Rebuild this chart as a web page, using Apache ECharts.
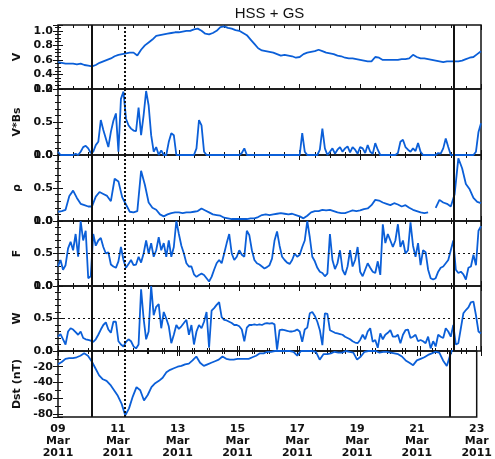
<!DOCTYPE html>
<html><head><meta charset="utf-8">
<script src="https://cdn.jsdelivr.net/npm/echarts@6/dist/echarts.min.js"></script>
<style>html,body{margin:0;padding:0;background:#fff}#c{width:495px;height:459px}</style>
</head><body><div id="c"></div>
<script>
// ---------- data ----------
const chartTitle = 'HSS + GS';
const dayLabels = ['09','11','13','15','17','19','21','23'];
const monthLabel = 'Mar';
const yearLabel = '2011';
const panelNames = ['V', 'V*Bs', 'ρ', 'F', 'W', 'Dst (nT)'];
// event times, days after 09 Mar 2011 00 UT
const solidEventDays = [1.125, 13.09];
const dottedEventDays = [2.22];
const referenceLevel = 0.5;

// V, 3-hourly from 09 Mar 00 UT
const vStepHours = 3;
const vValues = [
0.57,0.56,0.55,0.55,0.55,0.54,0.55,0.53,
0.52,0.51,0.53,0.56,0.58,0.60,0.62,0.65,
0.67,0.68,0.69,0.70,0.70,0.66,0.74,0.80,
0.84,0.88,0.93,0.94,0.95,0.96,0.97,0.98,
0.98,0.99,1.00,1.00,1.02,1.03,1.00,0.96,
0.95,0.97,1.00,1.05,1.06,1.04,1.03,1.01,
1.00,0.97,0.94,0.88,0.82,0.76,0.73,0.72,
0.71,0.70,0.68,0.66,0.67,0.66,0.65,0.63,
0.64,0.68,0.70,0.71,0.72,0.74,0.72,0.70,
0.69,0.68,0.66,0.65,0.63,0.62,0.62,0.61,
0.60,0.59,0.58,0.58,0.64,0.63,0.60,0.60,
0.60,0.60,0.60,0.61,0.61,0.62,0.67,0.64,
0.62,0.62,0.61,0.60,0.59,0.58,0.57,0.58,
0.58,0.58,0.58,0.59,0.61,0.63,0.64,0.68,
0.72];

// V*Bs, 2-hourly
const vbsStepHours = 2;
const vbsValues = [
0.05,0,0,0,0,0,0,0.02,0,0.05,0.12,0.14,
0.10,0.03,0.05,0.15,0.20,0.53,0.38,0.25,0.12,0.35,0.52,0.63,
0.05,0.85,0.96,0.55,0.45,0.40,0.37,0.36,0.72,0.30,0.60,0.97,
0.75,0.30,0.05,0.12,0,0.07,0,0,0.20,0.33,0.30,0,
0,0,0,0,0,0,0,0.10,0.53,0.45,0.05,0,
0,0,0,0,0,0,0,0,0,0,0,0,
0,0.03,0.10,0,0,0,0,0,0,0,0,0,
0,0,0,0,0,0,0,0,0,0,0,0,
0,0.33,0.05,0,0,0,0,0,0.08,0.40,0.10,0,
0.05,0.10,0.02,0.08,0.12,0.05,0.10,0.13,0.04,0.12,0.08,0.02,
0.12,0.10,0.03,0.15,0.05,0.02,0.18,0.08,0,0,0,0,
0,0,0,0.03,0.20,0.23,0.12,0.08,0.05,0.10,0.06,0.18,
0.05,0,0,0,0,0,0,0.03,0.02,0.10,0.25,0.12,
0,0,0,0,0,0,0,0,0,0,0.05,0.35,
0.48];

// rho, 3-hourly (null = data gap)
const rhoStepHours = 3;
const rhoValues = [
0.14,0.15,0.17,0.38,0.46,0.35,0.26,0.24,
0.22,0.22,0.37,0.44,0.41,0.38,0.30,0.64,
0.60,0.36,0.25,0.14,0.13,0.15,0.76,0.55,
0.28,0.20,0.17,0.10,0.07,0.10,0.12,0.13,
0.13,0.12,0.13,0.13,0.14,0.15,0.19,0.16,
0.13,0.10,0.09,0.08,0.05,0.04,0.03,0.03,
0.03,0.03,0.03,0.04,0.04,0.06,0.09,0.10,
0.09,0.10,0.11,0.12,0.11,0.10,0.11,0.09,
0.07,0.04,0.08,0.13,0.15,0.15,0.17,0.16,
0.17,0.15,0.13,0.12,0.12,0.14,0.16,0.15,
0.16,0.18,0.19,0.24,0.32,0.31,0.28,0.26,
0.24,0.27,0.25,0.22,0.24,0.20,0.17,0.15,
0.13,0.12,0.13,null,0.20,0.32,0.28,0.26,
0.22,0.40,0.95,0.80,0.56,0.48,0.35,0.29,
0.27];

// F, 2-hourly
const fStepHours = 2;
const fValues = [
0.30,0.40,0.25,0.32,0.58,0.68,0.55,0.80,0.45,1.00,0.70,0.85,
0.12,0.15,0.80,0.62,0.70,0.74,0.60,0.50,0.52,0.33,0.30,0.28,
0.38,0.60,0.40,0.28,0.34,0.40,0.32,0.33,0.45,0.36,0.50,0.70,
0.50,0.66,0.45,0.55,0.75,0.55,0.66,0.45,0.70,0.45,0.60,1.00,
0.80,0.62,0.50,0.35,0.30,0.30,0.18,0.14,0.17,0.19,0.17,0.12,
0.07,0.14,0.25,0.35,0.40,0.35,0.50,0.66,0.80,0.50,0.40,0.45,
0.55,0.48,0.45,0.85,0.78,0.55,0.40,0.35,0.33,0.30,0.27,0.29,
0.32,0.42,0.70,0.84,0.62,0.45,0.40,0.36,0.34,0.40,0.50,0.45,
0.48,0.60,0.70,1.00,0.75,0.45,0.38,0.28,0.22,0.20,0.15,0.19,
0.80,0.40,0.26,0.35,0.55,0.25,0.17,0.30,0.55,0.30,0.40,0.60,
0.22,0.15,0.25,0.35,0.28,0.22,0.20,0.38,0.17,0.95,0.66,0.80,
0.70,0.60,0.70,0.95,0.60,0.70,0.50,0.55,0.98,0.62,0.45,0.66,
0.32,0.55,0.52,0.25,0.12,0.10,0.12,0.22,0.28,0.30,0.35,0.40,
0.55,0.70,0.25,0.20,0.22,0.18,0.10,0.28,0.30,0.48,0.32,0.85,
0.92];

// W, 2-hourly
const wStepHours = 2;
const wValues = [
0.22,0.26,0.18,0.10,0.30,0.35,0.33,0.29,0.25,0.30,0.20,0.18,
0.17,0.16,0.14,0.18,0.25,0.33,0.40,0.44,0.33,0.28,0.45,0.45,
0.15,0.10,0.07,0.14,0.18,0.15,0.07,0.04,0.10,0.95,0.50,0.18,
0.30,1.00,0.55,0.68,0.72,0.35,0.60,0.50,0.38,0.12,0.25,0.40,
0.34,0.38,0.43,0.48,0.25,0.40,0.10,0.30,0.40,0.35,0.45,0.60,
0.05,0.62,0.66,0.71,0.75,0.52,0.48,0.47,0.45,0.43,0.40,0.40,
0.38,0.33,0.15,0.36,0.40,0.40,0.41,0.40,0.41,0.40,0.42,0.43,
0.42,0.43,0.41,0.02,0.32,0.33,0.32,0.31,0.30,0.30,0.31,0.33,
0.30,0.14,0.33,0.36,0.58,0.60,0.54,0.45,0.32,0.09,0.58,0.57,
0.32,0.30,0.28,0.27,0.26,0.25,0.22,0.20,0.18,0.15,0.13,0.12,
0.17,0.25,0.18,0.30,0.35,0.14,0.17,0.05,0.27,0.18,0.25,0.28,
0.32,0.22,0.22,0.25,0.12,0.25,0.32,0.33,0.20,0.22,0.25,0.15,
0.17,0.15,0.12,0.22,0.04,0.15,0.07,0.25,0.22,0.20,0.35,0.30,
0.22,0.40,0.10,0.12,0.35,0.58,0.63,0.67,0.75,0.76,0.55,0.30,
0.27];

// Dst (nT), 3-hourly
const dstStepHours = 3;
const dstValues = [
-17,-14,-10,-9,-9,-8,-6,-3,
-6,-13,-22,-31,-36,-38,-43,-50,
-57,-67,-82,-73,-58,-46,-50,-63,
-56,-46,-41,-38,-34,-27,-24,-22,
-20,-19,-17,-16,-12,-7,-15,-19,
-17,-15,-13,-11,-7,-10,-11,-11,
-10,-10,-10,-10,-8,-6,-3,-3,
-1,-1,0,0,0,0,0,-1,
-6,0,0,0,0,-1,-11,-4,
-4,-3,-1,-2,-2,0,-1,-2,
-11,-7,-1,0,0,0,-2,-1,
-1,-2,-3,-4,-7,-12,-15,-18,
-12,-10,-8,-5,-3,-1,-2,-12,
-19,-4,8,15,18,15,12,10,
10];

// ---------- chart ----------
function toPairs(values, stepHours) {
  return values.map((v, i) => [i * stepHours / 24, v]);
}
const f1 = v => v.toFixed(1);
const panels = [
  {values: vValues, step: vStepHours, min: 0.2, max: 1.08, interval: 0.2, minor: 4, gap: 34, fmt: f1},
  {values: vbsValues, step: vbsStepHours, min: 0, max: 1, interval: 0.5, minor: 5, gap: 34, fmt: f1},
  {values: rhoValues, step: rhoStepHours, min: 0, max: 1, interval: 0.5, minor: 5, gap: 34, fmt: f1},
  {values: fValues, step: fStepHours, min: 0, max: 1, interval: 0.5, minor: 5, gap: 34, fmt: f1, ref: true},
  {values: wValues, step: wStepHours, min: 0, max: 1, interval: 0.5, minor: 5, gap: 34, fmt: f1, ref: true},
  {values: dstValues, step: dstStepHours, min: -84, max: 0, interval: null, minor: 2, gap: 34, fmt: v => String(Math.round(v))}
];
const tops = [25, 89, 155, 221, 286, 351];
const heights = [64, 66, 66, 65, 65, 66];
const ink = '#111';
const blue = '#0b5fd8';
const labelFont = {fontFamily: 'DejaVu Sans', fontSize: 11, fontWeight: 'bold', color: ink};

const grid = [], xAxis = [], yAxis = [], series = [];
panels.forEach((p, i) => {
  grid.push({left: 58, right: 14, top: tops[i], height: heights[i], show: true,
             borderColor: ink, borderWidth: 1.5, backgroundColor: 'transparent'});
  ['bottom', 'top'].forEach(pos => {
    const isLabelled = (pos === 'bottom' && i === panels.length - 1);
    xAxis.push({
      gridIndex: i, type: 'value', position: pos, min: 0, max: 14, interval: 2,
      axisLine: {show: false},
      axisTick: {show: true, inside: true, length: 5, lineStyle: {color: ink, width: 1}},
      minorTick: {show: true, splitNumber: 4, length: 3, lineStyle: {color: ink, width: 1}},
      splitLine: {show: false}, minorSplitLine: {show: false},
      axisLabel: isLabelled ? Object.assign({
        show: true, margin: 6, lineHeight: 12,
        formatter: v => dayLabels[Math.round(v / 2)] + '\n' + monthLabel + '\n' + yearLabel
      }, labelFont) : {show: false}
    });
  });
  ['left', 'right'].forEach(pos => {
    const yCfg = {
      gridIndex: i, type: 'value', position: pos, min: p.min, max: p.max,
      axisLine: {show: false},
      axisTick: {show: true, inside: true, length: 5, lineStyle: {color: ink, width: 1}},
      minorTick: {show: true, splitNumber: p.minor, length: 3, lineStyle: {color: ink, width: 1}},
      splitLine: {show: false}, minorSplitLine: {show: false},
      axisLabel: pos === 'left' ? Object.assign({
        show: true, margin: 5, formatter: p.fmt, showMaxLabel: p.max === 1 || p.max === 0, showMinLabel: p.min !== -84
      }, labelFont) : {show: false}
    };
    if (p.interval) yCfg.interval = p.interval; else yCfg.splitNumber = 4;
    if (pos === 'left') {
      yCfg.name = panelNames[i];
      yCfg.nameLocation = 'middle';
      yCfg.nameGap = p.gap;
      yCfg.nameRotate = 90;
      yCfg.nameTextStyle = {fontFamily: 'DejaVu Sans', fontSize: 11, fontWeight: 'bold', color: ink};
    }
    yAxis.push(yCfg);
  });
  const mlData = [];
  solidEventDays.forEach(d => mlData.push({xAxis: d, lineStyle: {type: 'solid', color: ink, width: 2}}));
  dottedEventDays.forEach(d => mlData.push({xAxis: d, lineStyle: {type: [2, 2], color: ink, width: 2}}));
  if (p.ref) mlData.push({yAxis: referenceLevel, lineStyle: {type: [2, 3], color: ink, width: 1}});
  series.push({
    type: 'line', xAxisIndex: 2 * i, yAxisIndex: 2 * i,
    data: toPairs(p.values, p.step),
    showSymbol: false, symbol: 'none', connectNulls: false, clip: true,
    lineStyle: {color: blue, width: 1.8}, itemStyle: {color: blue},
    z: 3, silent: true,
    markLine: {silent: true, symbol: ['none', 'none'], label: {show: false}, animation: false,
               data: mlData, z: 4}
  });
});

const chart = echarts.init(document.getElementById('c'), null, {renderer: 'canvas'});
chart.setOption({
  animation: false,
  backgroundColor: '#fff',
  graphic: [{type: 'text', x: 269.5, y: 14,
             style: {text: chartTitle, font: '15px "Liberation Sans", Arial, sans-serif',
                     fill: ink, align: 'center', verticalAlign: 'middle'}}],
  grid, xAxis, yAxis, series
});
</script></body></html>
